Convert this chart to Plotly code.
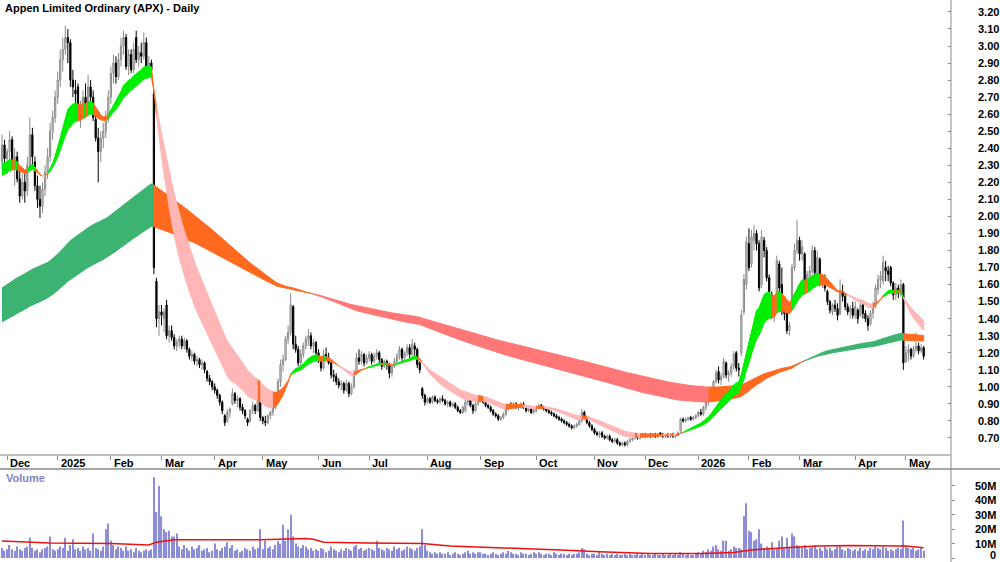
import numpy as np
import pandas as pd
import plotly.graph_objects as go

# ---------------- data ----------------
TITLE = "Appen Limited Ordinary (APX) - Daily"
START_DATE = "2024-11-28"
END_DATE = "2026-05-12"
asx_holidays = ["2024-12-25", "2024-12-26", "2025-01-01", "2025-01-27", "2025-04-18",
                "2025-04-21", "2025-04-25", "2025-06-09", "2025-12-25", "2025-12-26",
                "2026-01-01", "2026-01-26", "2026-04-03", "2026-04-06"]

opens = [
    2.32,2.42,2.34,2.38,2.45,2.30,2.35,2.22,2.12,2.20,2.15,2.30,2.48,2.32,2.18,2.10,2.06,2.16,2.26,2.35,2.50,2.58,
    2.70,2.80,2.92,2.98,3.05,3.02,2.80,2.74,2.76,2.60,2.64,2.70,2.66,2.76,2.70,2.57,2.46,2.38,2.46,2.50,2.58,
    2.70,2.84,2.90,2.82,2.92,3.00,3.05,2.88,2.95,2.86,3.05,2.92,2.96,2.94,3.02,2.88,2.90,2.72,1.62,1.40,
    1.44,1.40,1.48,1.30,1.33,1.29,1.24,1.26,1.28,1.24,1.27,1.22,1.18,1.19,1.15,1.16,1.13,1.14,1.09,1.05,1.03,
    1.00,0.98,0.95,0.91,0.83,0.80,0.85,0.90,0.96,0.92,0.93,0.88,0.86,0.81,0.80,0.86,0.89,0.86,0.94,
    0.82,0.80,0.79,0.83,0.85,0.88,0.93,1.03,1.13,1.16,1.28,1.32,1.47,1.25,1.22,1.14,1.19,1.24,1.28,1.30,1.24,1.26,
    1.20,1.16,1.11,1.19,1.17,1.14,1.07,1.06,1.03,1.01,1.02,0.98,1.02,0.96,1.00,1.08,1.17,1.15,1.19,1.14,
    1.17,1.19,1.15,1.18,1.20,1.16,1.12,1.15,1.13,1.08,1.12,1.15,1.18,1.22,1.17,1.20,1.23,1.19,1.24,1.22,1.14,0.99,0.95,
    0.91,0.93,0.91,0.94,0.92,0.91,0.93,0.92,0.90,0.91,0.89,0.90,0.88,0.86,0.85,0.86,0.91,0.92,0.89,0.86,0.90,
    0.92,0.93,0.91,0.89,0.88,0.86,0.84,0.83,0.81,0.82,0.84,0.87,0.89,0.88,0.90,0.88,0.89,0.90,0.88,0.86,0.87,0.85,
    0.86,0.88,0.89,0.88,0.87,0.86,0.85,0.84,0.83,0.82,0.81,0.80,0.79,0.78,0.77,0.76,0.77,0.78,0.80,0.85,0.82,0.79,0.77,
    0.75,0.73,0.72,0.73,0.71,0.70,0.71,0.69,0.68,0.69,0.67,0.66,0.67,0.66,0.68,0.69,0.70,0.71,0.70,0.71,
    0.72,0.71,0.72,0.71,0.72,0.71,0.73,0.72,0.71,0.72,0.71,0.72,0.71,0.72,0.74,0.81,0.80,0.81,0.82,0.81,0.82,
    0.83,0.85,0.84,0.88,0.91,0.93,0.99,1.03,1.09,1.04,1.06,1.14,1.07,1.08,1.12,1.20,1.11,1.20,1.44,1.60,
    1.84,1.72,1.86,1.90,1.84,1.60,1.86,1.80,1.64,1.54,1.44,1.49,1.72,1.60,1.45,1.48,1.33,1.52,1.70,1.80,
    1.86,1.78,1.78,1.61,1.62,1.68,1.80,1.67,1.75,1.61,1.64,1.56,1.50,1.44,1.48,1.46,1.43,1.56,1.53,1.47,1.44,1.46,
    1.42,1.45,1.42,1.48,1.43,1.40,1.37,1.43,1.48,1.57,1.63,1.62,1.70,1.68,1.70,1.61,1.54,1.58,1.54,1.60,
    1.15,1.20,1.22,1.18,1.22,1.24,1.21,1.23,
]
highs = [
    2.48,2.45,2.40,2.50,2.47,2.40,2.38,2.28,2.25,2.26,2.35,2.58,2.52,2.35,2.24,2.18,2.20,2.30,2.40,2.55,2.62,2.74,
    2.85,2.98,3.05,3.12,3.10,3.04,2.86,2.80,2.78,2.68,2.74,2.78,2.83,2.80,2.74,2.60,2.52,2.50,2.55,2.62,2.74,
    2.88,2.95,2.94,2.96,3.05,3.09,3.07,2.98,2.98,3.02,3.09,3.00,3.02,3.08,3.05,2.94,2.92,2.74,1.64,1.48,
    1.48,1.46,1.51,1.36,1.36,1.31,1.28,1.30,1.30,1.29,1.28,1.23,1.21,1.20,1.18,1.17,1.16,1.15,1.10,1.07,1.04,
    1.02,0.99,0.96,0.92,0.84,0.87,0.88,0.99,0.97,0.95,0.94,0.90,0.87,0.82,0.87,0.91,0.90,0.95,0.95,
    0.83,0.83,0.84,0.86,0.89,0.94,1.05,1.16,1.19,1.30,1.36,1.55,1.48,1.30,1.24,1.22,1.26,1.30,1.34,1.32,1.28,1.27,
    1.22,1.18,1.22,1.23,1.20,1.15,1.10,1.08,1.05,1.04,1.03,1.04,1.03,1.02,1.10,1.20,1.22,1.21,1.20,1.19,
    1.21,1.20,1.20,1.22,1.21,1.17,1.16,1.16,1.14,1.13,1.17,1.20,1.24,1.23,1.21,1.25,1.25,1.28,1.26,1.23,1.15,1.00,0.96,
    0.94,0.94,0.95,0.95,0.93,0.94,0.95,0.93,0.92,0.92,0.91,0.91,0.89,0.87,0.89,0.93,0.93,0.93,0.90,0.91,0.93,
    0.94,0.94,0.92,0.90,0.89,0.87,0.85,0.84,0.83,0.85,0.88,0.90,0.91,0.91,0.91,0.90,0.91,0.91,0.89,0.88,0.88,0.87,
    0.89,0.90,0.90,0.89,0.88,0.87,0.86,0.85,0.84,0.83,0.82,0.81,0.80,0.79,0.78,0.78,0.79,0.81,0.87,0.86,0.83,0.80,0.78,
    0.76,0.74,0.74,0.74,0.72,0.72,0.72,0.70,0.70,0.70,0.68,0.68,0.68,0.69,0.70,0.71,0.72,0.72,0.72,0.73,
    0.73,0.72,0.73,0.73,0.73,0.73,0.73,0.73,0.72,0.73,0.73,0.73,0.72,0.74,0.82,0.82,0.82,0.82,0.83,0.83,0.84,
    0.86,0.87,0.89,0.92,0.94,1.00,1.04,1.10,1.12,1.08,1.17,1.15,1.10,1.14,1.21,1.21,1.14,1.45,1.66,1.88,
    1.93,1.92,1.95,1.92,1.86,1.92,1.88,1.82,1.66,1.56,1.50,1.77,1.74,1.70,1.48,1.50,1.38,1.72,1.84,1.98,
    1.88,1.86,1.79,1.68,1.71,1.83,1.82,1.80,1.76,1.66,1.66,1.57,1.51,1.49,1.51,1.49,1.63,1.60,1.55,1.49,1.48,1.50,
    1.50,1.46,1.50,1.51,1.45,1.42,1.45,1.50,1.60,1.66,1.68,1.77,1.74,1.71,1.71,1.62,1.61,1.60,1.63,1.61,
    1.24,1.25,1.23,1.24,1.32,1.26,1.25,1.24,
]
lows = [
    2.28,2.30,2.25,2.33,2.28,2.18,2.20,2.08,2.10,2.08,2.12,2.28,2.30,2.15,2.05,1.99,2.02,2.12,2.22,2.32,2.45,2.55,
    2.66,2.76,2.85,2.95,2.90,2.76,2.70,2.62,2.56,2.52,2.60,2.62,2.64,2.66,2.56,2.44,2.20,2.32,2.40,2.46,2.55,
    2.66,2.78,2.78,2.80,2.88,2.95,2.86,2.83,2.84,2.84,2.90,2.88,2.90,2.92,2.86,2.84,2.84,1.66,1.35,1.30,
    1.36,1.32,1.28,1.26,1.27,1.22,1.21,1.23,1.22,1.22,1.20,1.16,1.15,1.13,1.12,1.11,1.10,1.08,1.03,1.01,0.98,
    0.96,0.93,0.89,0.84,0.77,0.79,0.82,0.89,0.90,0.88,0.86,0.84,0.81,0.77,0.79,0.84,0.84,0.85,0.80,
    0.78,0.77,0.78,0.81,0.83,0.87,0.92,1.00,1.09,1.15,1.25,1.30,1.22,1.20,1.12,1.11,1.17,1.22,1.24,1.22,1.20,1.18,
    1.14,1.09,1.10,1.15,1.13,1.05,1.03,1.01,0.99,0.98,0.96,0.97,0.94,0.95,0.99,1.07,1.13,1.13,1.12,1.13,
    1.15,1.13,1.14,1.16,1.14,1.10,1.11,1.10,1.05,1.06,1.11,1.14,1.16,1.15,1.15,1.18,1.17,1.18,1.18,1.11,1.08,0.93,0.89,
    0.90,0.90,0.90,0.91,0.90,0.90,0.91,0.89,0.88,0.88,0.88,0.87,0.85,0.84,0.84,0.85,0.89,0.88,0.84,0.85,0.89,
    0.91,0.90,0.88,0.87,0.85,0.83,0.82,0.80,0.80,0.81,0.83,0.86,0.87,0.87,0.87,0.86,0.87,0.87,0.85,0.85,0.84,0.84,
    0.85,0.87,0.87,0.86,0.85,0.84,0.83,0.82,0.81,0.80,0.79,0.78,0.77,0.76,0.75,0.75,0.76,0.77,0.79,0.81,0.78,0.76,0.74,
    0.72,0.71,0.70,0.70,0.69,0.69,0.68,0.67,0.67,0.66,0.65,0.65,0.65,0.65,0.67,0.68,0.69,0.69,0.69,0.70,
    0.70,0.70,0.70,0.70,0.70,0.70,0.71,0.70,0.70,0.70,0.70,0.70,0.70,0.71,0.73,0.79,0.79,0.80,0.80,0.80,0.81,
    0.82,0.83,0.83,0.86,0.89,0.92,0.97,1.02,1.02,1.01,1.05,1.05,1.03,1.06,1.10,1.09,1.06,1.18,1.42,1.57,
    1.68,1.70,1.80,1.80,1.56,1.58,1.76,1.62,1.54,1.40,1.38,1.47,1.55,1.42,1.39,1.31,1.30,1.50,1.68,1.78,
    1.74,1.74,1.58,1.59,1.60,1.66,1.64,1.63,1.59,1.58,1.56,1.48,1.43,1.42,1.44,1.39,1.42,1.50,1.45,1.42,1.40,1.40,
    1.40,1.37,1.41,1.40,1.38,1.33,1.36,1.40,1.46,1.54,1.58,1.60,1.62,1.62,1.59,1.51,1.51,1.52,1.53,1.10,
    1.14,1.15,1.16,1.17,1.20,1.19,1.20,1.16,
]
closes = [
    2.42,2.34,2.38,2.45,2.30,2.35,2.22,2.12,2.20,2.15,2.30,2.48,2.35,2.18,2.10,2.06,2.16,2.26,2.35,2.50,2.58,2.70,
    2.80,2.92,2.98,3.05,3.02,2.80,2.76,2.72,2.60,2.64,2.70,2.66,2.76,2.70,2.58,2.46,2.38,2.46,2.50,2.58,2.70,
    2.84,2.90,2.82,2.92,3.00,3.05,2.88,2.95,2.86,2.98,2.92,2.96,2.94,3.02,2.88,2.90,2.86,1.70,1.40,1.44,
    1.42,1.44,1.30,1.33,1.29,1.24,1.26,1.28,1.24,1.27,1.22,1.18,1.19,1.15,1.16,1.13,1.14,1.10,1.05,1.03,1.00,
    0.98,0.95,0.91,0.86,0.79,0.85,0.87,0.96,0.92,0.93,0.88,0.86,0.83,0.79,0.86,0.89,0.86,0.93,0.82,
    0.80,0.79,0.83,0.85,0.88,0.93,1.03,1.13,1.16,1.28,1.32,1.48,1.25,1.22,1.14,1.19,1.24,1.28,1.30,1.24,1.26,1.20,
    1.16,1.11,1.19,1.17,1.14,1.07,1.06,1.03,1.01,1.02,0.98,1.02,0.96,1.00,1.08,1.17,1.15,1.19,1.14,1.17,
    1.19,1.15,1.18,1.20,1.16,1.12,1.15,1.13,1.08,1.12,1.15,1.18,1.22,1.17,1.20,1.23,1.19,1.25,1.22,1.13,1.10,0.95,0.91,
    0.93,0.91,0.94,0.92,0.91,0.93,0.92,0.90,0.91,0.89,0.90,0.88,0.86,0.85,0.88,0.91,0.92,0.89,0.86,0.90,0.92,
    0.93,0.91,0.89,0.88,0.86,0.84,0.83,0.81,0.82,0.84,0.87,0.89,0.88,0.90,0.88,0.89,0.90,0.88,0.86,0.87,0.85,0.86,
    0.88,0.89,0.88,0.87,0.86,0.85,0.84,0.83,0.82,0.81,0.80,0.79,0.78,0.77,0.76,0.77,0.78,0.80,0.85,0.82,0.79,0.77,0.75,
    0.73,0.72,0.73,0.71,0.70,0.71,0.69,0.68,0.69,0.67,0.66,0.67,0.66,0.68,0.69,0.70,0.71,0.70,0.71,0.72,
    0.71,0.72,0.71,0.72,0.71,0.72,0.72,0.71,0.72,0.71,0.72,0.71,0.72,0.73,0.81,0.80,0.81,0.82,0.81,0.82,0.83,
    0.85,0.84,0.88,0.91,0.93,0.99,1.03,1.08,1.04,1.06,1.15,1.07,1.08,1.12,1.19,1.11,1.10,1.42,1.63,1.85,
    1.70,1.88,1.90,1.84,1.58,1.88,1.80,1.64,1.56,1.44,1.47,1.74,1.58,1.45,1.43,1.33,1.36,1.70,1.80,1.86,
    1.78,1.82,1.61,1.66,1.68,1.80,1.67,1.76,1.61,1.64,1.58,1.50,1.45,1.48,1.46,1.42,1.56,1.53,1.47,1.44,1.46,1.42,
    1.47,1.40,1.48,1.43,1.40,1.36,1.43,1.48,1.58,1.63,1.65,1.73,1.68,1.66,1.61,1.54,1.58,1.55,1.60,1.14,
    1.20,1.22,1.18,1.22,1.24,1.21,1.23,1.18,
]
volumes_m = [
    7,5,6,9,6,5,8,6,5,7,8,14,7,5,6,4,6,7,8,15,6,5,
    6,8,7,14,5,9,13,6,7,5,8,6,7,5,17,7,6,5,8,20,24,
    12,9,6,8,7,5,8,5,6,4,7,5,4,5,6,5,6,56,32,50,
    29,20,18,19,15,15,17,8,6,9,7,5,8,6,7,9,5,6,7,4,5,
    10,6,5,7,8,11,7,9,5,6,4,5,7,6,5,8,6,7,20,
    6,12,7,8,6,9,12,10,23,12,20,30,15,10,8,7,9,8,6,7,5,6,
    5,7,6,4,5,8,6,5,4,6,5,7,6,5,8,9,6,7,5,6,
    7,6,5,12,7,6,5,7,6,5,8,6,7,5,6,8,7,6,5,7,8,20,9,
    5,4,3,4,3,4,3,3,4,2,3,4,3,2,3,4,5,3,4,3,4,
    4,3,3,2,3,4,3,2,3,4,3,5,4,3,3,2,4,3,3,2,3,4,
    3,4,3,2,3,3,2,4,3,2,3,3,2,3,2,3,3,4,7,6,3,2,3,
    3,2,4,3,2,3,2,3,2,3,2,2,3,2,3,2,2,3,2,3,
    2,3,2,2,3,2,2,3,2,2,3,2,3,2,4,3,2,3,2,2,3,
    4,3,5,4,6,5,8,9,6,5,12,12,5,6,8,7,7,6,29,38,
    19,18,12,13,20,10,7,8,6,11,6,7,12,15,7,14,7,17,15,9,
    8,7,9,6,7,8,9,6,7,5,8,6,7,5,6,8,9,6,5,7,6,5,
    6,5,7,5,6,5,7,6,8,7,6,8,7,5,6,5,6,7,6,26,
    8,7,6,7,5,6,7,5,
]
# volume moving-average line, read at knots (bar index, millions)
vol_ma_idx = [0, 19, 43, 58, 61, 68, 102, 115, 120, 123, 127, 144, 166, 177, 197, 223, 236,
              256, 276, 289, 295, 309, 322, 335, 355, 356, 364]
vol_ma_val = [11.8, 10.5, 10.0, 9.0, 11.0, 12.6, 12.6, 13.0, 13.5, 13.0, 11.0, 10.5, 10.0, 8.3,
              7.2, 5.4, 4.3, 3.2, 3.2, 3.9, 5.4, 7.2, 8.3, 8.7, 8.3, 8.5, 7.2]

# trend ribbons: EMA periods and their values at the first bar
short_periods = (17, 28)
short_seed = (2.31, 2.24)
long_periods = (145, 205)
long_seed = (1.58, 1.38)

price_ticks = [round(0.7 + 0.1 * k, 2) for k in range(26)]
vol_ticks = [0, 10, 20, 30, 40, 50]

# ---------------- build ----------------
n = len(closes)
lens = (len(opens), len(highs), len(lows), len(closes), len(volumes_m))
if len(set(lens)) != 1:
    raise SystemExit("length mismatch %s" % (lens,))

days = pd.bdate_range(START_DATE, END_DATE)
days = days[~days.isin(pd.to_datetime(asx_holidays))]
days = days[:n]
idx = np.arange(n)


def ema(values, period, seed):
    a = 2.0 / (period + 1)
    out = [seed]
    for v in values[1:]:
        out.append(out[-1] + a * (v - out[-1]))
    return np.array(out)


def ribbon(fast, slow, colors):
    state = []
    for i in range(n):
        j = max(i, 1)
        rising = fast[j] >= fast[j - 1]
        if fast[i] >= slow[i] and rising:
            s = "up"
        elif fast[i] < slow[i] and not rising:
            s = "down"
        else:
            s = "mixed"
        state.append(s)
    traces = []
    start = 0
    for i in range(1, n + 1):
        if i == n or state[i] != state[start]:
            end = min(i, n - 1)
            xs = list(idx[start:end + 1]) + list(idx[start:end + 1][::-1])
            ys = list(fast[start:end + 1]) + list(slow[start:end + 1][::-1])
            c = colors[state[start]]
            traces.append(go.Scatter(x=xs, y=ys, fill="toself", fillcolor=c, mode="lines",
                                     line=dict(color=c, width=1), hoverinfo="skip",
                                     showlegend=False, xaxis="x", yaxis="y"))
            start = i
    return traces


cl = np.array(closes)
s_fast = ema(cl, short_periods[0], short_seed[0])
s_slow = ema(cl, short_periods[1], short_seed[1])
l_fast = ema(cl, long_periods[0], long_seed[0])
l_slow = ema(cl, long_periods[1], long_seed[1])

fig = go.Figure()
for t in ribbon(l_fast, l_slow, {"up": "#3cb371", "mixed": "#ff6a1f", "down": "#ff7777"}):
    fig.add_trace(t)
for t in ribbon(s_fast, s_slow, {"up": "#00ee00", "mixed": "#ff6a1f", "down": "#ffb6b6"}):
    fig.add_trace(t)

fig.add_trace(go.Candlestick(
    x=idx, open=opens, high=highs, low=lows, close=closes,
    increasing=dict(line=dict(color="#8a8a8a", width=1), fillcolor="#dedede"),
    decreasing=dict(line=dict(color="#000000", width=1), fillcolor="#000000"),
    whiskerwidth=0, hoverinfo="skip", showlegend=False, xaxis="x", yaxis="y"))

fig.add_trace(go.Bar(x=idx, y=volumes_m, width=0.5, marker=dict(color="#8c8cd8", line=dict(width=0)),
                     xaxis="x2", yaxis="y2", showlegend=False, hoverinfo="skip"))
fig.add_trace(go.Scatter(x=vol_ma_idx, y=vol_ma_val, mode="lines", line=dict(color="#ee1111", width=1.5),
                         xaxis="x2", yaxis="y2", showlegend=False, hoverinfo="skip"))

# month ticks
month_pos, month_lab = [], []
for i in range(1, n):
    if days[i].month != days[i - 1].month:
        month_pos.append(i)
        month_lab.append(str(days[i].year) if days[i].month == 1 else days[i].strftime("%b"))

W, H = 1000, 562
X_RIGHT = 951 / W
PRICE_BOTTOM = 1 - 455 / H
VOL_TOP = 1 - 469 / H
xlo = -2 / 2.532
xhi = xlo + 951 / 2.532
FONT = "Liberation Sans, Arial, sans-serif"

fig.update_layout(
    width=W, height=H, margin=dict(l=0, r=0, t=0, b=0),
    paper_bgcolor="white", plot_bgcolor="white", showlegend=False,
    font=dict(family=FONT, size=11, color="black"),
    xaxis=dict(domain=[0, X_RIGHT], range=[xlo, xhi], anchor="y", showgrid=False, zeroline=False,
               showticklabels=False, tickmode="array", tickvals=month_pos, ticks="outside",
               ticklen=4, tickcolor="#8a8a8a", showline=False, rangeslider=dict(visible=False)),
    yaxis=dict(domain=[PRICE_BOTTOM, 1], range=[0.60, 3.27], side="right", anchor="x",
               showgrid=False, zeroline=False, tickmode="array", tickvals=price_ticks,
               ticktext=["%.2f" % v for v in price_ticks], ticks="inside", ticklen=3,
               tickcolor="#8a8a8a", ticklabelstandoff=26,
               tickfont=dict(family=FONT, size=11, color="black", weight="bold")),
    xaxis2=dict(domain=[0, X_RIGHT], range=[xlo, xhi], anchor="y2", showgrid=False, zeroline=False,
                showticklabels=False, ticks=""),
    yaxis2=dict(domain=[0, VOL_TOP], range=[-2.78, 61.8], side="right", anchor="x2", showgrid=False,
                zeroline=False, tickmode="array", tickvals=vol_ticks, showticklabels=False,
                ticks="outside", ticklen=3, tickcolor="#8a8a8a"),
)

shapes = [
    dict(type="line", xref="paper", yref="paper", x0=X_RIGHT, x1=X_RIGHT, y0=0, y1=1,
         line=dict(color="#8a8a8a", width=1)),
    dict(type="line", xref="paper", yref="paper", x0=0, x1=X_RIGHT, y0=PRICE_BOTTOM, y1=PRICE_BOTTOM,
         line=dict(color="#a8a8a8", width=1.5)),
    dict(type="line", xref="paper", yref="paper", x0=0, x1=1, y0=VOL_TOP, y1=VOL_TOP,
         line=dict(color="#8a8a8a", width=1.5)),
]
fig.update_layout(shapes=shapes)

ann = [dict(x=0.003, y=1 - 8 / H, xref="paper", yref="paper", xanchor="left", yanchor="middle",
            text="<b>%s</b>" % TITLE, showarrow=False, font=dict(family=FONT, size=11, color="black")),
       dict(x=0.004, y=1 - 478 / H, xref="paper", yref="paper", xanchor="left", yanchor="middle",
            text="<b>Volume</b>", showarrow=False, font=dict(family=FONT, size=11, color="#8080c8"))]
for p, lab in zip(month_pos, month_lab):
    ann.append(dict(x=p, y=1 - 462.5 / H, xref="x", yref="paper", xanchor="left", yanchor="middle",
                    xshift=1, text="<b>%s</b>" % lab, showarrow=False,
                    font=dict(family=FONT, size=11, color="black")))
for v in vol_ticks:
    ann.append(dict(x=0.998, y=v, xref="paper", yref="y2", xanchor="right", yanchor="middle",
                    yshift=3 if v == 0 else 0,
                    text="<b>%s</b>" % ("0" if v == 0 else "%dM" % v), showarrow=False,
                    font=dict(family=FONT, size=11, color="black")))
fig.update_layout(annotations=ann)

fig.write_html("out.html")
